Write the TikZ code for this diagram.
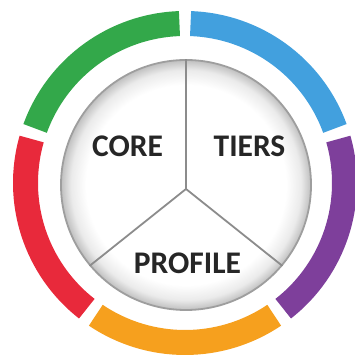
\documentclass[tikz,border=0pt]{standalone}
\usepackage{fontspec}
\setmainfont{Carlito}
\definecolor{ringgreen}{HTML}{33A84A}
\definecolor{ringred}{HTML}{E8293B}
\definecolor{ringorange}{HTML}{F6A01E}
\definecolor{ringpurple}{HTML}{7E3F9B}
\definecolor{ringblue}{HTML}{42A0DE}
\pgfdeclareradialshading{rim}{\pgfpoint{0bp}{0bp}}{%
  color(0bp)=(white); color(20bp)=(white); color(23bp)=(black!8); color(25bp)=(black!25); color(50bp)=(black!25)}

\begin{document}
\begin{tikzpicture}[x=1pt,y=1pt]
  \def\gap{2}
  \def\ringr{159.5}
  \tikzset{ring part/.style={line width=25pt},
    spoke/.style={draw=black!45, line width=1.8pt},
    part label/.style={font=\bfseries\fontsize{31.5}{32}\selectfont, text=black!85}}
  \useasboundingbox (0,0) rectangle (355,358);
  % outer ring
  \begin{scope}[shift={(185,175)}]
    \foreach \col [count=\i] in {ringgreen,ringred,ringorange,ringpurple,ringblue} {
      \draw[ring part, \col] ({90+72*(\i-1)+\gap}:\ringr)
        arc[start angle=90+72*(\i-1)+\gap, end angle=162+72*(\i-1)-\gap, radius=\ringr];
    }
  \end{scope}
  % inner disc
  \node[circle, minimum size=250pt, inner sep=0pt, shading=rim,
    draw=black!38, line width=1.8pt] (disc) at (186,173) {};
  \coordinate (hub) at ([yshift=-4pt]disc.center);
  \draw[spoke] (hub) -- (disc.90);
  \draw[spoke] (hub) -- (disc.220);
  \draw[spoke] (hub) -- (disc.320);
  \node[part label] (core) at (127.5,212) {CORE};
  \node[part label] (tiers) at (249.5,212) {TIERS};
  \node[part label] (profile) at (187.5,94.5) {PROFILE};
\end{tikzpicture}
\end{document}
